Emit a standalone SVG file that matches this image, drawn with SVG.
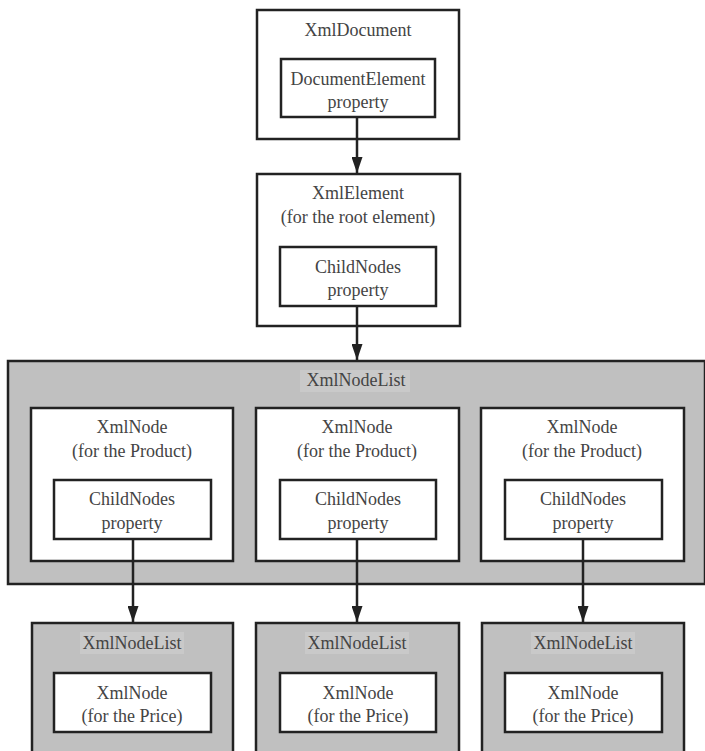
<svg xmlns="http://www.w3.org/2000/svg" width="705" height="751" viewBox="0 0 705 751">
<style>
.box{fill:#fff;stroke:#222;stroke-width:2.5}
.gbox{fill:#c0c0c0;stroke:#222;stroke-width:2.5}
.lbl{fill:#c9c9c9}
text{font-family:"Liberation Serif","Times New Roman",serif;font-size:18px;fill:#444;text-anchor:middle}
.conn line{stroke:#222;stroke-width:2.5}
</style>
<defs>
<marker id="arr" viewBox="0 0 16 11" refX="16" refY="5.5" markerWidth="16" markerHeight="11" markerUnits="userSpaceOnUse" orient="auto">
<path d="M0,0 L16,5.5 L0,11 Z" fill="#222"/>
</marker>
</defs>
<rect width="705" height="751" fill="#fff"/>

<g id="xmldocument">
<rect class="box" x="257" y="10" width="202" height="129"/>
<text x="358" y="36">XmlDocument</text>
<g id="documentelement">
<rect class="box" x="281" y="59" width="154" height="58"/>
<text x="358" y="85">DocumentElement</text>
<text x="358" y="108">property</text>
</g>
</g>

<g id="xmlelement">
<rect class="box" x="257" y="174" width="203" height="152"/>
<text x="358" y="199">XmlElement</text>
<text x="358" y="223">(for the root element)</text>
<g id="childnodes-root">
<rect class="box" x="280" y="247" width="156" height="59"/>
<text x="358" y="273">ChildNodes</text>
<text x="358" y="296">property</text>
</g>
</g>

<g id="xmlnodelist-main">
<rect class="gbox" x="8" y="361" width="697" height="223"/>
<rect class="lbl" x="300" y="370" width="110" height="22"/>
<text x="356" y="386">XmlNodeList</text>
<g id="product1">
<rect class="box" x="31" y="408" width="202" height="153"/>
<text x="132" y="433">XmlNode</text>
<text x="132" y="457">(for the Product)</text>
<g id="childnodes1">
<rect class="box" x="54" y="480" width="157" height="59"/>
<text x="132" y="505">ChildNodes</text>
<text x="132" y="529">property</text>
</g>
</g>
<g id="product2">
<rect class="box" x="256" y="408" width="203" height="153"/>
<text x="357" y="433">XmlNode</text>
<text x="357" y="457">(for the Product)</text>
<g id="childnodes2">
<rect class="box" x="280" y="480" width="156" height="59"/>
<text x="358" y="505">ChildNodes</text>
<text x="358" y="529">property</text>
</g>
</g>
<g id="product3">
<rect class="box" x="481" y="408" width="203" height="153"/>
<text x="582" y="433">XmlNode</text>
<text x="582" y="457">(for the Product)</text>
<g id="childnodes3">
<rect class="box" x="505" y="480" width="157" height="59"/>
<text x="583" y="505">ChildNodes</text>
<text x="583" y="529">property</text>
</g>
</g>
</g>

<g id="pricelist1">
<rect class="gbox" x="32" y="623" width="201" height="140"/>
<rect class="lbl" x="80" y="632" width="104" height="22"/>
<text x="132" y="649">XmlNodeList</text>
<g id="price1">
<rect class="box" x="54" y="673" width="157" height="59"/>
<text x="132" y="699">XmlNode</text>
<text x="132" y="722">(for the Price)</text>
</g>
</g>
<g id="pricelist2">
<rect class="gbox" x="256" y="623" width="203" height="140"/>
<rect class="lbl" x="305" y="632" width="104" height="22"/>
<text x="357" y="649">XmlNodeList</text>
<g id="price2">
<rect class="box" x="280" y="673" width="156" height="59"/>
<text x="358" y="699">XmlNode</text>
<text x="358" y="722">(for the Price)</text>
</g>
</g>
<g id="pricelist3">
<rect class="gbox" x="482" y="623" width="202" height="140"/>
<rect class="lbl" x="531" y="632" width="104" height="22"/>
<text x="583" y="649">XmlNodeList</text>
<g id="price3">
<rect class="box" x="505" y="673" width="157" height="59"/>
<text x="583" y="699">XmlNode</text>
<text x="583" y="722">(for the Price)</text>
</g>
</g>

<g id="connectors" class="conn">
<line x1="357" y1="117" x2="357" y2="173" marker-end="url(#arr)"/>
<line x1="357" y1="306" x2="357" y2="360" marker-end="url(#arr)"/>
<line x1="133" y1="539" x2="133" y2="622" marker-end="url(#arr)"/>
<line x1="357" y1="539" x2="357" y2="622" marker-end="url(#arr)"/>
<line x1="583" y1="539" x2="583" y2="622" marker-end="url(#arr)"/>
</g>
</svg>
